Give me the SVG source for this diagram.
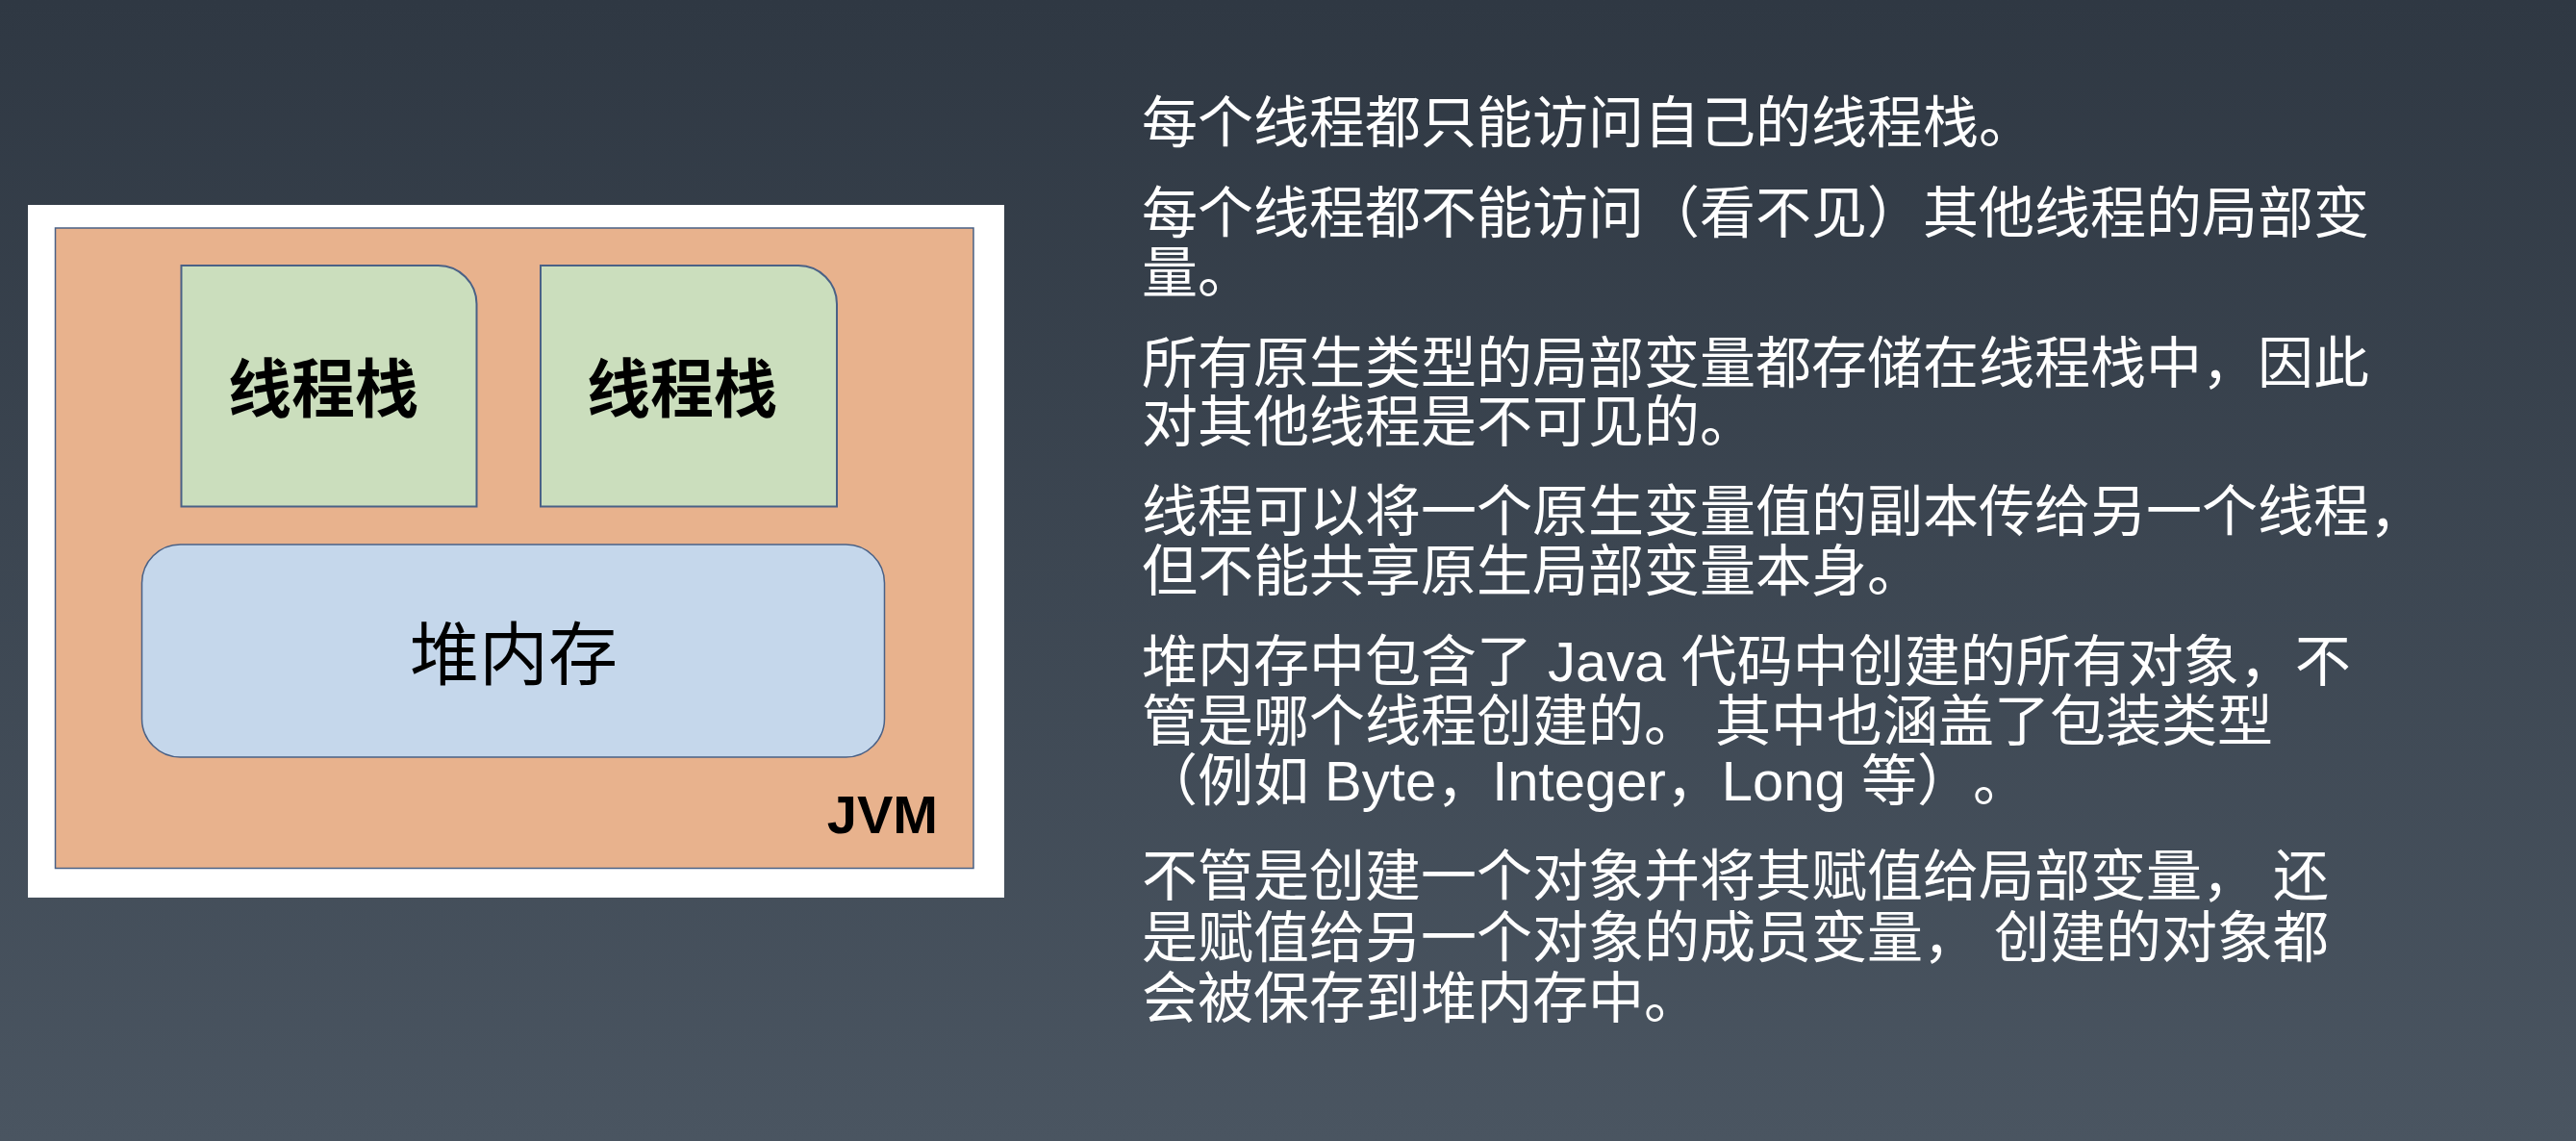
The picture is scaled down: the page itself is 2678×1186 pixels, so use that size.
<svg xmlns="http://www.w3.org/2000/svg" width="2678" height="1186" viewBox="0 0 2678 1186">
  <defs>
    <linearGradient id="bg" x1="0" y1="0" x2="0" y2="1">
      <stop offset="0" stop-color="#2f3843"/>
      <stop offset="1" stop-color="#4a5561"/>
    </linearGradient>
    <style>
      .frame { fill: #ffffff; }
      .jvm { fill: #e8b28d; stroke: #4a6186; stroke-width: 1.5; }
      .stack { fill: #cbdebd; stroke: #4a6186; stroke-width: 2; }
      .heap { fill: #c5d7eb; stroke: #4a6186; stroke-width: 1.5; }
      .stack-label { font-family: "Noto Sans CJK SC", "Noto Sans CJK TC", sans-serif; font-weight: 700; font-size: 66px; fill: #000000; text-anchor: middle; }
      .heap-label { font-family: "Noto Sans CJK SC", "Noto Sans CJK TC", sans-serif; font-weight: 400; font-size: 72px; fill: #000000; text-anchor: middle; }
      .jvm-label { font-family: "Liberation Sans", "Noto Sans", sans-serif; font-weight: 700; font-size: 56px; fill: #000000; text-anchor: end; }
      .note { font-family: "Liberation Sans", "Noto Sans CJK SC", sans-serif; font-size: 58px; fill: #ffffff; text-spacing-trim: space-all; }
    </style>
  </defs>

  <!-- slide background -->
  <rect x="0" y="0" width="2678" height="1186" fill="url(#bg)"/>

  <!-- memory model figure -->
  <g id="figure-frame">
    <rect class="frame" x="29" y="213" width="1015" height="720"/>
  </g>

  <g id="jvm">
    <rect class="jvm" x="57.5" y="237" width="954.5" height="665.5"/>
    <text class="jvm-label" x="975" y="866">JVM</text>
  </g>

  <g id="thread-stack-1">
    <path class="stack" d="M188.5,276 H455.5 A40,40 0 0 1 495.5,316 V526.5 H188.5 Z"/>
    <text class="stack-label" x="336" y="428">线程栈</text>
  </g>

  <g id="thread-stack-2">
    <path class="stack" d="M562,276 H830 A40,40 0 0 1 870,316 V526.5 H562 Z"/>
    <text class="stack-label" x="709" y="428">线程栈</text>
  </g>

  <g id="heap">
    <rect class="heap" x="147.5" y="566" width="772" height="221" rx="40" ry="40"/>
    <text class="heap-label" x="534" y="706">堆内存</text>
  </g>

  <!-- explanatory notes -->
  <g id="notes">
    <text class="note" x="1187" y="148">每个线程都只能访问自己的线程栈。</text>

    <text class="note" x="1187" y="242">每个线程都不能访问（看不见）其他线程的局部变</text>
    <text class="note" x="1187" y="304">量。</text>

    <text class="note" x="1187" y="398">所有原生类型的局部变量都存储在线程栈中，因此</text>
    <text class="note" x="1187" y="459">对其他线程是不可见的。</text>

    <text class="note" x="1187" y="552">线程可以将一个原生变量值的副本传给另一个线程，</text>
    <text class="note" x="1187" y="614">但不能共享原生局部变量本身。</text>

    <text class="note" x="1187" y="708">堆内存中包含了 Java 代码中创建的所有对象，不</text>
    <text class="note" x="1187" y="770">管是哪个线程创建的。 其中也涵盖了包装类型</text>
    <text class="note" x="1187" y="832">（例如 Byte，Integer，Long 等）。</text>

    <text class="note" x="1187" y="931">不管是创建一个对象并将其赋值给局部变量， 还</text>
    <text class="note" x="1187" y="995">是赋值给另一个对象的成员变量， 创建的对象都</text>
    <text class="note" x="1187" y="1058">会被保存到堆内存中。</text>
  </g>
</svg>
